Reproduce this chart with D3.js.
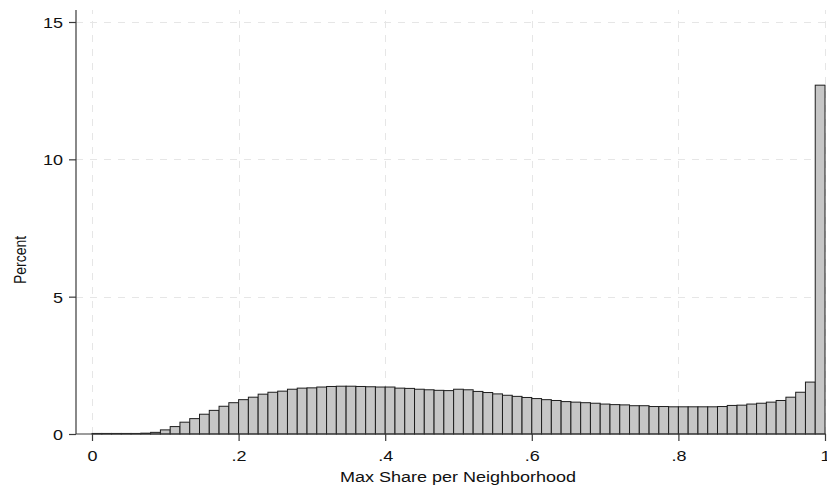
<!DOCTYPE html>
<html>
<head>
<meta charset="utf-8">
<script src="https://cdn.jsdelivr.net/npm/d3@7"></script>
<style>
  html, body { margin: 0; padding: 0; background: #fff; }
  svg { display: block; font-family: "Liberation Sans", Arial, sans-serif; }
</style>
</head>
<body>
<svg id="chart" width="827" height="485"></svg>
<script>
// Histogram of the largest group share within each neighborhood (75 equal bins on [0, 1])
const binCount = 75;
const binPercent = [
  0.02, 0.02, 0.02, 0.02, 0.02, 0.03, 0.06, 0.15, 0.27, 0.43,
  0.56, 0.72, 0.86, 1.01, 1.14, 1.25, 1.34, 1.45, 1.52, 1.56,
  1.63, 1.67, 1.68, 1.71, 1.73, 1.74, 1.74, 1.73, 1.72, 1.71,
  1.71, 1.67, 1.66, 1.63, 1.61, 1.59, 1.58, 1.63, 1.61, 1.55,
  1.51, 1.46, 1.41, 1.37, 1.33, 1.29, 1.25, 1.22, 1.18, 1.16,
  1.14, 1.12, 1.09, 1.07, 1.06, 1.03, 1.03, 1.00, 1.00, 0.99,
  0.99, 0.99, 0.99, 0.99, 1.00, 1.04, 1.05, 1.09, 1.12, 1.16,
  1.22, 1.34, 1.52, 1.89, 12.70
];
const xTicks = [0, 0.2, 0.4, 0.6, 0.8, 1];
const xTickLabels = ["0", ".2", ".4", ".6", ".8", "1"];
const yTicks = [0, 5, 10, 15];
const xTitle = "Max Share per Neighborhood";
const yTitle = "Percent";

const bins = binPercent.map((v, i) => ({ x0: i / binCount, x1: (i + 1) / binCount, v }));

const svg = d3.select("#chart");
const axisLeftX = 76, plotTop = 10, plotRight = 826;
const stretch = 1.2;          // glyphs are drawn a little wide
const textColor = "#111";

const x = d3.scaleLinear().domain([0, 1]).range([92, 825]);
const y = d3.scaleLinear().domain([0, 15]).range([434, 22]);

const gridColor = "#e6e6e6";
const axisColor = "#3a3a3a";

// gridlines
const grid = svg.append("g").attr("stroke", gridColor).attr("stroke-width", 1)
  .attr("stroke-dasharray", "7,7").attr("fill", "none");
grid.selectAll("line.v").data(xTicks).join("line").attr("class", "v")
  .attr("x1", d => Math.round(x(d)) + 0.5).attr("x2", d => Math.round(x(d)) + 0.5)
  .attr("y1", y(0)).attr("y2", plotTop);
grid.selectAll("line.h").data(yTicks.filter(d => d > 0)).join("line").attr("class", "h")
  .attr("x1", axisLeftX).attr("x2", plotRight)
  .attr("y1", d => Math.round(y(d)) + 0.5).attr("y2", d => Math.round(y(d)) + 0.5);

// bars
svg.append("g").selectAll("rect").data(bins).join("rect")
  .attr("x", d => x(d.x0))
  .attr("width", d => x(d.x1) - x(d.x0))
  .attr("y", d => y(d.v))
  .attr("height", d => y(0) - y(d.v))
  .attr("fill", "#c6c6c6")
  .attr("stroke", "#1e1e1e")
  .attr("stroke-width", 1);

// x axis: ticks from d3, labels placed by hand so they can be widened
const xAxis = d3.axisBottom(x).tickValues(xTicks).tickFormat("").tickSize(7);
const gx = svg.append("g").attr("transform", `translate(0,${y(0)})`).call(xAxis);
gx.select(".domain").remove();
gx.append("line").attr("x1", axisLeftX).attr("x2", plotRight).attr("y1", 0).attr("y2", 0)
  .attr("stroke", axisColor).attr("stroke-width", 1.2);
gx.selectAll(".tick line").attr("stroke", axisColor).attr("stroke-width", 1.2);
gx.selectAll(".tick").append("text")
  .attr("transform", `translate(0,27) scale(${stretch},1)`)
  .attr("text-anchor", "middle").attr("fill", textColor)
  .style("font-size", "15px").text((d, i) => xTickLabels[i]);

// y axis
const yAxis = d3.axisLeft(y).tickValues(yTicks).tickFormat("").tickSize(7);
const gy = svg.append("g").attr("transform", `translate(${axisLeftX},0)`).call(yAxis);
gy.select(".domain").remove();
gy.append("line").attr("x1", 0).attr("x2", 0).attr("y1", y(0)).attr("y2", plotTop)
  .attr("stroke", axisColor).attr("stroke-width", 1.2);
gy.selectAll(".tick line").attr("stroke", axisColor).attr("stroke-width", 1.2);
gy.selectAll(".tick").append("text")
  .attr("transform", `translate(-13,5.5) scale(${stretch},1)`)
  .attr("text-anchor", "end").attr("fill", textColor)
  .style("font-size", "15px").text(d => d);

// axis titles
svg.append("text")
  .attr("transform", `translate(458,482) scale(${stretch},1)`)
  .attr("text-anchor", "middle").attr("fill", textColor)
  .style("font-size", "15px").text(xTitle);
svg.append("text")
  .attr("transform", `translate(26,260) scale(${stretch},1) rotate(-90)`)
  .attr("text-anchor", "middle").attr("fill", textColor)
  .style("font-size", "14px").text(yTitle);
</script>
</body>
</html>
